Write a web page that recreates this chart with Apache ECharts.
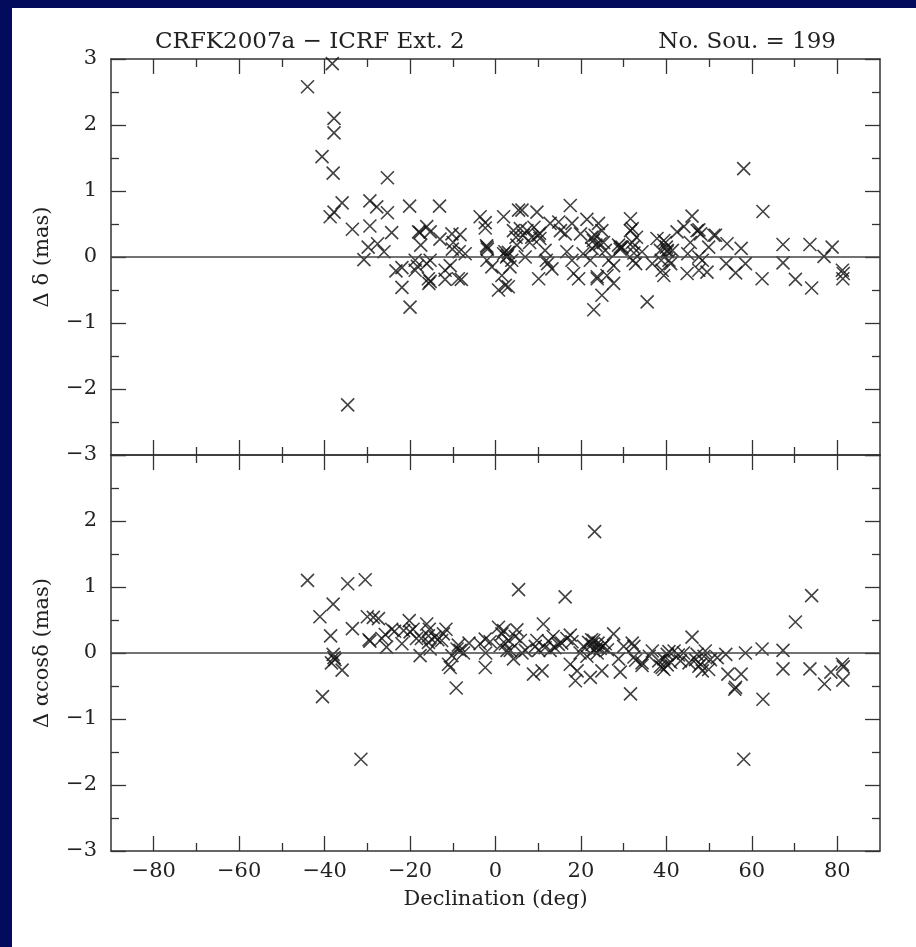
<!DOCTYPE html>
<html>
<head>
<meta charset="utf-8">
<script src="https://cdn.jsdelivr.net/npm/echarts@6/dist/echarts.min.js"></script>
<style>
html, body { margin: 0; padding: 0; background: #fff; }
#chart { width: 916px; height: 947px; }
</style>
</head>
<body>
<div id="chart"></div>
<script>
// declination (deg) and delta-dec offsets (mas), upper panel
var decTop = [
	-44.0, -38.2, -37.8, -37.8, -40.6, -38.0, -38.7, -37.8, -35.9, -33.5, -34.6, -30.8,
	-29.4, -29.4, -29.8, -27.8, -27.6, -26.1, -25.3, -25.3, -24.3, -23.3, -21.9, -21.9,
	-20.1, -20.0, -18.8, -18.8, -18.3, -17.7, -17.5, -16.1, -15.3, -16.1, -15.3, -15.7,
	-15.6, -15.3, -13.1, -13.0, -11.8, -11.8, -10.6, -10.2, -10.1, -9.9, -8.3, -8.7,
	-8.0, -8.5, -7.1, -3.6, -2.4, -2.4, -2.0, -1.9, -2.0, -0.85, 0.7, 1.9,
	1.5, 2.3, 3.0, 1.9, 2.6, 3.0, 3.4, 3.8, 4.2, 5.4, 6.2, 5.0,
	5.8, 7.35, 6.95, 8.5, 9.7, 10.1, 10.4, 10.1, 11.6, 11.9, 12.2, 13.2,
	12.8, 14.8, 15.2, 16.3, 17.5, 16.7, 17.9, 17.9, 18.3, 19.45, 19.9, 21.4,
	22.2, 22.6, 22.9, 23.0, 23.3, 23.8, 24.1, 24.9, 24.9, 25.3, 26.1, 26.5,
	27.65, 27.65, 25.7, 28.8, 29.6, 29.2, 31.6, 32.0, 32.0, 32.2, 32.4, 32.2,
	32.8, 34.3, 35.5, 36.7, 37.8, 38.6, 39.0, 39.4, 39.8, 40.2, 40.6, 41.0,
	41.4, 42.5, 44.1, 44.85, 45.6, 46.0, 47.2, 47.6, 47.6, 48.0, 48.4, 49.5,
	49.9, 51.5, 54.2, 54.0, 56.2, 57.5, 58.1, 58.5, 62.4, 62.6, 67.3, 67.3,
	70.2, 73.6, 74.0, 76.9, 78.8, 81.2, 81.3, 81.4,
	-18.0, 4.8, 6.5, 8.0, 9.0, 10.3, 2.2, 2.8, -2.1, 23.5, 22.5, 24.5,
	31.6, 29.2, 39.4, 40.2, 47.6, 51.1, 23.8, 38.8, 40.0, 45.0, 33.0, 20.5
];
var dDelta = [
	2.58, 2.93, 2.10, 1.88, 1.52, 1.27, 0.61, 0.68, 0.82, 0.42, -2.24, -0.04,
	0.85, 0.47, 0.15, 0.76, 0.20, 0.08, 1.20, 0.67, 0.37, -0.21, -0.16, -0.46,
	0.77, -0.76, -0.05, -0.20, -0.14, 0.37, 0.18, 0.46, 0.38, -0.10, -0.05, -0.33,
	-0.40, -0.37, 0.77, 0.27, -0.34, -0.20, -0.13, 0.35, 0.12, 0.22, 0.34, -0.33,
	-0.34, 0.08, 0.05, 0.61, 0.52, 0.44, 0.15, 0.12, -0.05, -0.15, -0.50, 0.61,
	-0.28, -0.43, -0.45, 0.05, 0.00, 0.07, -0.15, -0.05, 0.40, 0.71, 0.71, 0.18,
	0.43, 0.40, 0.00, 0.30, 0.68, 0.33, 0.28, -0.33, 0.10, -0.05, -0.10, -0.18,
	0.51, 0.53, 0.40, 0.35, 0.78, 0.08, 0.51, -0.05, -0.25, -0.33, 0.35, 0.57,
	-0.05, 0.13, 0.25, -0.80, 0.33, -0.33, 0.51, 0.40, -0.58, 0.22, -0.28, -0.05,
	-0.13, -0.40, 0.10, 0.18, 0.15, 0.12, 0.58, 0.43, 0.22, 0.15, 0.06, -0.05,
	-0.10, 0.08, -0.68, -0.10, 0.28, 0.10, -0.20, -0.28, 0.22, 0.08, -0.05, -0.10,
	0.10, 0.38, 0.46, -0.25, 0.22, 0.62, 0.40, 0.00, -0.20, 0.35, -0.05, -0.23,
	0.15, 0.33, 0.20, -0.10, -0.24, 0.13, 1.34, -0.10, -0.33, 0.69, 0.19, -0.09,
	-0.34, 0.19, -0.47, 0.01, 0.15, -0.20, -0.33, -0.25,
	0.38, 0.30, 0.33, 0.22, 0.45, 0.36, 0.08, 0.02, 0.17, 0.18, 0.30, 0.20,
	0.40, 0.15, 0.25, 0.10, 0.41, 0.33, -0.30, -0.05, 0.15, 0.05, 0.30, 0.05
];

// declination (deg) and delta-ra*cos(dec) offsets (mas), lower panel
var decBottom = [
	-44.0, -41.1, -40.5, -38.0, -38.6, -38.0, -37.8, -38.4, -37.6, -35.9, -34.6, -33.5,
	-31.5, -30.5, -30.0, -29.6, -29.4, -28.6, -27.4, -26.6, -25.5, -25.8, -24.3, -23.6,
	-21.9, -21.5, -20.2, -20.0, -19.3, -18.5, -17.65, -17.35, -16.1, -15.5, -15.7, -15.7,
	-15.3, -14.2, -12.6, -12.2, -11.6, -11.0, -10.6, -10.2, -9.2, -9.0, -8.3, -8.7,
	-7.5, -3.6, -2.4, -2.4, -2.3, -1.25, 0.7, 1.5, 1.1, 2.3, 2.7, 3.05,
	3.45, 4.2, 5.0, 5.4, 5.8, 6.2, 7.0, 8.9, 9.7, 10.1, 10.9, 11.2,
	11.6, 12.4, 12.8, 13.5, 13.9, 14.7, 16.3, 16.7, 17.5, 17.9, 17.5, 18.7,
	19.1, 19.8, 21.4, 22.2, 22.6, 23.0, 23.8, 23.2, 1.9, 21.8, 23.0, 23.8,
	24.5, 24.9, 25.7, 27.65, 28.8, 29.2, 30.0, 31.6, 32.0, 32.4, 32.8, 34.3,
	36.7, 38.2, 39.0, 39.4, 40.2, 41.0, 41.8, 43.3, 45.3, 46.0, 47.2, 48.0,
	48.4, 49.1, 49.9, 51.9, 53.9, 54.4, 56.0, 57.5, 58.1, 58.5, 62.4, 62.6,
	67.3, 67.3, 70.2, 73.6, 74.0, 77.0, 78.5, 81.2, 81.4, 81.3,
	22.5, 24.0, 25.0, 26.2, 32.4, 34.3, 38.6, 39.4, 40.2, 40.6, 42.8, 46.8,
	47.6, 48.8, 50.3, 56.2, 36.0, 44.0, 20.6, 4.6, 9.3, -13.5, -6.2, 15.5
];
var dAlphaCos = [
	1.10, 0.55, -0.66, 0.74, 0.26, -0.02, -0.07, -0.15, -0.10, -0.26, 1.05, 0.37,
	-1.61, 1.11, 0.55, 0.20, 0.18, 0.54, 0.52, 0.22, 0.09, 0.28, 0.36, 0.33,
	0.14, 0.34, 0.49, 0.32, 0.36, 0.22, -0.04, 0.22, 0.44, 0.36, 0.26, 0.16,
	0.06, 0.24, 0.19, 0.29, 0.36, -0.17, -0.22, -0.04, -0.53, 0.06, 0.04, 0.12,
	0.00, 0.14, 0.21, -0.22, 0.00, 0.17, 0.39, 0.29, 0.11, 0.14, 0.04, 0.19,
	0.04, -0.09, 0.35, 0.96, 0.19, 0.00, 0.04, -0.32, 0.19, 0.04, -0.27, 0.44,
	0.08, 0.18, 0.04, 0.25, 0.08, 0.13, 0.85, 0.22, 0.27, 0.17, -0.17, -0.42,
	-0.27, 0.00, -0.05, -0.37, 0.13, 0.04, 0.08, 1.84, 0.34, 0.16, 0.19, 0.00,
	0.07, -0.27, 0.14, 0.29, -0.09, -0.29, 0.10, -0.62, 0.15, -0.06, -0.11, -0.15,
	0.03, -0.12, -0.22, -0.09, -0.02, -0.14, 0.03, -0.12, -0.15, 0.24, -0.02, -0.17,
	-0.27, 0.03, -0.25, -0.07, -0.02, -0.32, -0.55, -0.32, -1.61, 0.00, 0.06, -0.70,
	0.04, -0.24, 0.47, -0.24, 0.87, -0.47, -0.29, -0.17, -0.21, -0.41,
	0.20, 0.15, 0.10, 0.05, 0.10, -0.19, -0.20, -0.25, -0.18, 0.02, -0.03, -0.10,
	-0.20, -0.05, -0.10, -0.52, -0.05, 0.00, 0.10, 0.25, 0.10, 0.20, 0.15, 0.15
];

var xMajorTicks = [-80, -60, -40, -20, 0, 20, 40, 60, 80];
var xMinorTicks = [-70, -50, -30, -10, 10, 30, 50, 70];

var FONT = 'DejaVu Serif';
var INK = '#222';
var LINE = '#333';

function fmtNum(v) {
	return v < 0 ? '\u2212' + (-v) : String(v);
}

function xAxisDef(grid, pos, ticks, len, showLine, withLabel) {
	var ax = {
		type: 'value', gridIndex: grid, position: pos, min: -90, max: 90,
		axisLine: { show: showLine, onZero: false, lineStyle: { color: LINE, width: 1.5 } },
		axisTick: { show: true, inside: true, length: len, customValues: ticks, lineStyle: { color: LINE, width: 1.3 } },
		axisLabel: {
			show: withLabel, customValues: xMajorTicks, margin: 10,
			fontFamily: FONT, fontSize: 21, color: INK, formatter: fmtNum
		},
		splitLine: { show: false }
	};
	if (withLabel) {
		ax.name = 'Declination (deg)';
		ax.nameLocation = 'middle';
		ax.nameGap = 38;
		ax.nameTextStyle = { fontFamily: FONT, fontSize: 21, color: INK };
	}
	return ax;
}

function yAxisDef(grid, pos, withLabel, name, hideTop) {
	var ax = {
		type: 'value', gridIndex: grid, position: pos, min: -3, max: 3, interval: 1,
		axisLine: { show: true, onZero: false, lineStyle: { color: LINE, width: 1.5 } },
		axisTick: { show: true, inside: true, length: 15, lineStyle: { color: LINE, width: 1.3 } },
		minorTick: { show: true, splitNumber: 2, length: 8, lineStyle: { color: LINE, width: 1.3 } },
		axisLabel: {
			show: withLabel, margin: 14, fontFamily: FONT, fontSize: 21, color: INK,
			formatter: function (v) { return (hideTop && v === 3) ? '' : fmtNum(v); }
		},
		splitLine: { show: false },
		minorSplitLine: { show: false }
	};
	if (name) {
		ax.name = name;
		ax.nameLocation = 'middle';
		ax.nameGap = 58;
		ax.nameTextStyle = { fontFamily: FONT, fontSize: 21, color: INK };
	}
	return ax;
}

function crossSeries(xi, yi, xs, ys) {
	return {
		type: 'scatter', xAxisIndex: xi, yAxisIndex: yi,
		data: xs.map(function (x, i) { return [x, ys[i]]; }),
		symbol: 'path://M0,0L10,10M10,0L0,10',
		symbolSize: 13,
		itemStyle: { color: 'rgba(0,0,0,0)', borderColor: '#111', borderWidth: 1.6 },
		silent: true,
		markLine: {
			silent: true, symbol: 'none', label: { show: false },
			lineStyle: { color: '#444', width: 1.5, type: 'solid' },
			data: [{ yAxis: 0 }]
		}
	};
}

var chart = echarts.init(document.getElementById('chart'));

var option = {
	animation: false,
	backgroundColor: '#fff',
	title: [
		{ text: 'CRFK2007a \u2212 ICRF Ext. 2', left: 150, top: 26,
		  textStyle: { fontFamily: FONT, fontSize: 23, fontWeight: 'normal', color: INK } },
		{ text: 'No. Sou. = 199', right: 75, top: 26,
		  textStyle: { fontFamily: FONT, fontSize: 23, fontWeight: 'normal', color: INK } }
	],
	graphic: [
		{ type: 'rect', shape: { x: 0, y: 0, width: 916, height: 8 }, style: { fill: '#030c5c' } },
		{ type: 'rect', shape: { x: 0, y: 0, width: 12, height: 947 }, style: { fill: '#030c5c' } }
	],
	grid: [
		{ left: 111, top: 59, width: 769, height: 396 },
		{ left: 111, top: 455, width: 769, height: 396 }
	],
	xAxis: [
		xAxisDef(0, 'bottom', xMajorTicks, 15, true, false),
		xAxisDef(0, 'bottom', xMinorTicks, 8, false, false),
		xAxisDef(0, 'top', xMajorTicks, 15, true, false),
		xAxisDef(0, 'top', xMinorTicks, 8, false, false),
		xAxisDef(1, 'bottom', xMajorTicks, 15, true, true),
		xAxisDef(1, 'bottom', xMinorTicks, 8, false, false),
		xAxisDef(1, 'top', xMajorTicks, 15, true, false),
		xAxisDef(1, 'top', xMinorTicks, 8, false, false)
	],
	yAxis: [
		yAxisDef(0, 'left', true, '\u0394 \u03b4 (mas)', false),
		yAxisDef(0, 'right', false, null, false),
		yAxisDef(1, 'left', true, '\u0394 \u03b1cos\u03b4 (mas)', true),
		yAxisDef(1, 'right', false, null, false)
	],
	series: [
		crossSeries(0, 0, decTop, dDelta),
		crossSeries(4, 2, decBottom, dAlphaCos)
	]
};

chart.setOption(option);
</script>
</body>
</html>
